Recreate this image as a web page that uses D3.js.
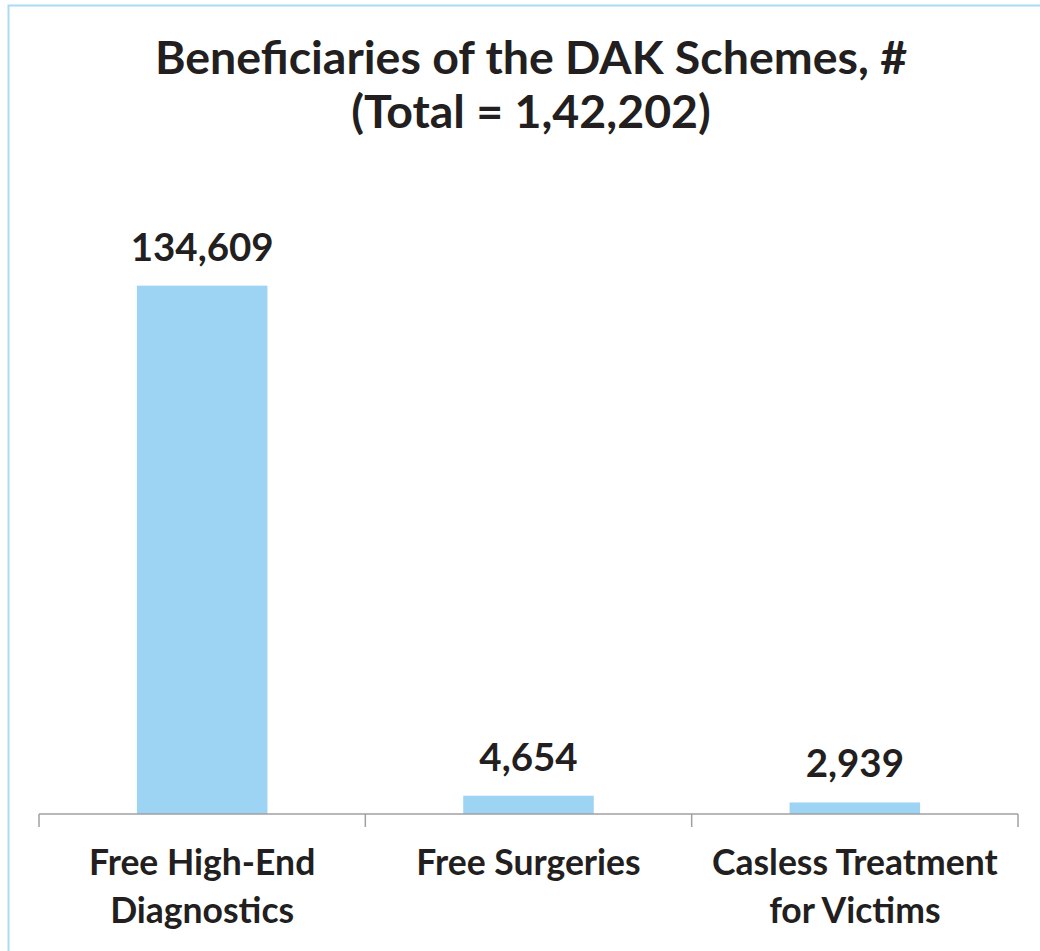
<!DOCTYPE html>
<html>
<head>
<meta charset="utf-8">
<script src="https://cdn.jsdelivr.net/npm/d3@7"></script>
<style>
  body { margin: 0; background: #fff; }
  svg { display: block; font-family: Lato, "Open Sans", sans-serif; }
</style>
</head>
<body>
<svg width="1040" height="951"></svg>
<script>
let categories = [["Free High-End", "Diagnostics"], ["Free Surgeries"], ["Casless Treatment", "for Victims"]];
let values = [134609, 4654, 2939];
let titleLines = ["Beneficiaries of the DAK Schemes, #", "(Total = 1,42,202)"];

let svg = d3.select("svg"),
    width = 1040,
    height = 951;

let axisY = 814;

// outer frame (light blue, only top and left visible)
svg.append("rect")
  .attr("x", 8.5).attr("y", 5.5)
  .attr("width", 1100).attr("height", 1100)
  .attr("fill", "none")
  .attr("stroke", "#a9dbf3")
  .attr("stroke-width", 2);

let x = d3.scaleBand()
  .domain(d3.range(categories.length))
  .range([39, 1018])
  .paddingInner(0.6)
  .paddingOuter(0.3);

let y = d3.scaleLinear()
  .domain([0, 160000])
  .range([axisY, 186]);

// title
svg.append("text")
  .attr("text-anchor", "middle")
  .attr("font-weight", 700)
  .attr("font-size", 46.5)
  .attr("fill", "#231f20")
  .selectAll("tspan")
  .data(titleLines)
  .join("tspan")
    .attr("x", 531)
    .attr("y", (d, i) => 74 + i * 54)
    .text(d => d);

// bars
svg.append("g").selectAll("rect")
  .data(values)
  .join("rect")
    .attr("x", (d, i) => x(i))
    .attr("y", d => y(d))
    .attr("width", x.bandwidth())
    .attr("height", d => axisY - y(d))
    .attr("fill", "#9dd4f3");

// value labels
svg.append("g").selectAll("text")
  .data(values)
  .join("text")
    .attr("x", (d, i) => x(i) + x.bandwidth() / 2)
    .attr("y", d => y(d) - 25)
    .attr("text-anchor", "middle")
    .attr("font-weight", 700)
    .attr("font-size", 38.5)
    .attr("fill", "#231f20")
    .text(d => d3.format(",")(d));

// category axis: baseline and ticks at band edges
let step = x.step();
let axis = svg.append("g").attr("stroke", "#a0a0a0").attr("stroke-width", 1.5);
axis.append("line")
  .attr("x1", x.range()[0]).attr("x2", x.range()[1])
  .attr("y1", axisY).attr("y2", axisY);
axis.selectAll("line.tick")
  .data(d3.range(categories.length + 1))
  .join("line")
    .attr("class", "tick")
    .attr("x1", i => x.range()[0] + i * step)
    .attr("x2", i => x.range()[0] + i * step)
    .attr("y1", axisY).attr("y2", axisY + 13);

// category labels
svg.append("g").selectAll("text")
  .data(categories)
  .join("text")
    .attr("text-anchor", "middle")
    .attr("font-weight", 700)
    .attr("font-size", 35.5)
    .attr("fill", "#231f20")
    .selectAll("tspan")
    .data((d, i) => d.map(t => ({t, i})))
    .join("tspan")
      .attr("x", d => x(d.i) + x.bandwidth() / 2)
      .attr("y", (d, j) => 875 + j * 48)
      .text(d => d.t);
</script>
</body>
</html>
